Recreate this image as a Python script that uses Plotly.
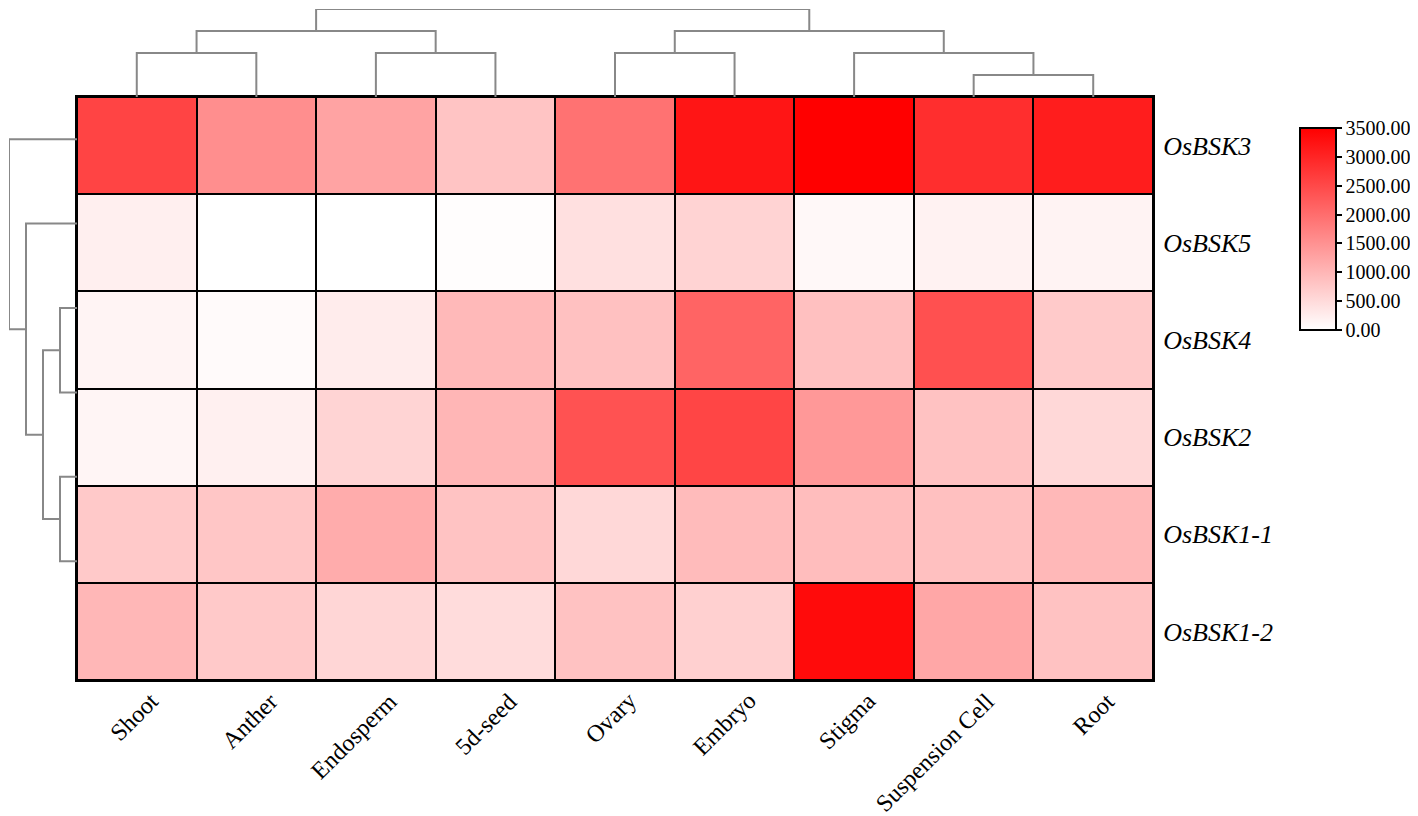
import plotly.graph_objects as go

# tissues (columns) and genes (rows), in the clustered display order
tissues = ["Shoot", "Anther", "Endosperm", "5d-seed", "Ovary", "Embryo",
           "Stigma", "Suspension Cell", "Root"]
genes = ["OsBSK3", "OsBSK5", "OsBSK4", "OsBSK2", "OsBSK1-1", "OsBSK1-2"]

# expression values (0 = white, 3500 = red)
osbsk3 = [2570, 1550, 1260, 810, 1930, 3210, 3500, 2870, 3100]
osbsk5 = [220, 0, 5, 30, 425, 600, 95, 180, 165]
osbsk4 = [150, 70, 260, 960, 850, 2130, 865, 2400, 730]
osbsk2 = [135, 205, 590, 1000, 2380, 2550, 1410, 840, 535]
osbsk1_1 = [740, 780, 1140, 820, 535, 930, 905, 865, 975]
osbsk1_2 = [990, 740, 565, 480, 840, 645, 3350, 1210, 840]
values = [osbsk3, osbsk5, osbsk4, osbsk2, osbsk1_1, osbsk1_2]

# cluster merges (child a, child b, height), scipy-linkage style ids
col_merges = [(7, 8, 1), (0, 1, 2), (2, 3, 2), (4, 5, 2), (6, 9, 2),
              (10, 11, 3), (12, 13, 3), (14, 15, 4)]
row_merges = [(2, 3, 1), (4, 5, 1), (6, 7, 2), (1, 8, 3), (0, 9, 4)]

cbar_ticks = [0, 500, 1000, 1500, 2000, 2500, 3000, 3500]

FONT = "Liberation Serif"
W, H = 1418, 816
PAD = 8  # the page body adds an 8px margin around the plot div


def dendro_lines(merges, n):
    # walk the merges and build U-shaped links
    pos = {i: float(i) for i in range(n)}
    hgt = {i: 0.0 for i in range(n)}
    p, h = [], []
    for k, (a, b, lvl) in enumerate(merges):
        p += [pos[a], pos[a], pos[b], pos[b], None]
        h += [hgt[a], lvl, lvl, hgt[b], None]
        pos[n + k] = (pos[a] + pos[b]) / 2
        hgt[n + k] = lvl
    return p, h


def px_x(a, b):
    return [(a - PAD) / W, (b - PAD) / W]


def px_y(top, bottom):
    return [1 - (bottom - PAD) / H, 1 - (top - PAD) / H]


fig = go.Figure()

fig.add_trace(go.Heatmap(
    z=values,
    x=list(range(len(tissues))),
    y=list(range(len(genes))),
    colorscale=[[0, "#FFFFFF"], [1, "#FF0000"]],
    zmin=0, zmax=3500,
    xgap=2, ygap=2,
    hoverinfo="z",
    colorbar=dict(
        x=(1300 - PAD) / W, xanchor="left", xpad=0,
        y=1 - (128 - PAD) / H, yanchor="top", ypad=0,
        len=202 / H, lenmode="fraction",
        thickness=36,
        outlinewidth=2, outlinecolor="black",
        tickvals=cbar_ticks, tickformat=".2f",
        ticks="outside", ticklen=5, tickwidth=1.5, tickcolor="black",
        tickfont=dict(family=FONT, size=20, color="black"),
    ),
))

# top dendrogram (columns)
cx, ch = dendro_lines(col_merges, len(tissues))
fig.add_trace(go.Scatter(x=cx, y=ch, mode="lines", xaxis="x2", yaxis="y2",
                         line=dict(color="#888888", width=2),
                         hoverinfo="skip", showlegend=False))

# left dendrogram (rows)
ry, rh = dendro_lines(row_merges, len(genes))
fig.add_trace(go.Scatter(x=rh, y=ry, mode="lines", xaxis="x3", yaxis="y3",
                         line=dict(color="#888888", width=2),
                         hoverinfo="skip", showlegend=False))

# black backing so the cell gaps read as grid lines
fig.add_shape(type="rect", xref="x domain", yref="y domain",
              x0=0, x1=1, y0=0, y1=1, fillcolor="black",
              line=dict(width=0), layer="below")

# rotated column labels, placed as annotations for tighter control
heat_bottom = px_y(97, 680)[0]
for i, t in enumerate(tissues):
    fig.add_annotation(x=i, xref="x", y=heat_bottom, yref="paper",
                       text=t, showarrow=False, textangle=-45,
                       xanchor="right", yanchor="top",
                       xshift=29, yshift=-5,
                       font=dict(family=FONT, size=24, color="black"))

hidden = dict(visible=False, fixedrange=True)

fig.update_layout(
    width=W, height=H,
    margin=dict(l=0, r=0, t=0, b=0, autoexpand=False),
    paper_bgcolor="white",
    plot_bgcolor="white",
    font=dict(family=FONT, color="black"),
    showlegend=False,
    xaxis=dict(
        domain=px_x(77, 1153),
        range=[-0.5, len(tissues) - 0.5],
        showticklabels=False, ticks="",
        showline=True, linewidth=2, linecolor="black", mirror=True,
        showgrid=False, zeroline=False, fixedrange=True,
    ),
    yaxis=dict(
        domain=px_y(97, 680),
        range=[len(genes) - 0.5, -0.5],
        tickvals=list(range(len(genes))),
        ticktext=["<i>%s</i>" % g for g in genes],
        side="right", ticks="", ticklabelstandoff=3,
        tickfont=dict(family=FONT, size=26, color="black"),
        showline=True, linewidth=2, linecolor="black", mirror=True,
        showgrid=False, zeroline=False, fixedrange=True,
    ),
    xaxis2=dict(hidden, domain=px_x(77, 1153), anchor="y2",
                range=[-0.5, len(tissues) - 0.5]),
    yaxis2=dict(hidden, domain=px_y(9, 97), anchor="x2", range=[0, 4]),
    xaxis3=dict(hidden, domain=px_x(9, 77), anchor="y3", range=[4, 0]),
    yaxis3=dict(hidden, domain=px_y(97, 603.5), anchor="x3",
                range=[len(genes) - 0.5, -0.5]),
)

fig.write_html("out.html")
